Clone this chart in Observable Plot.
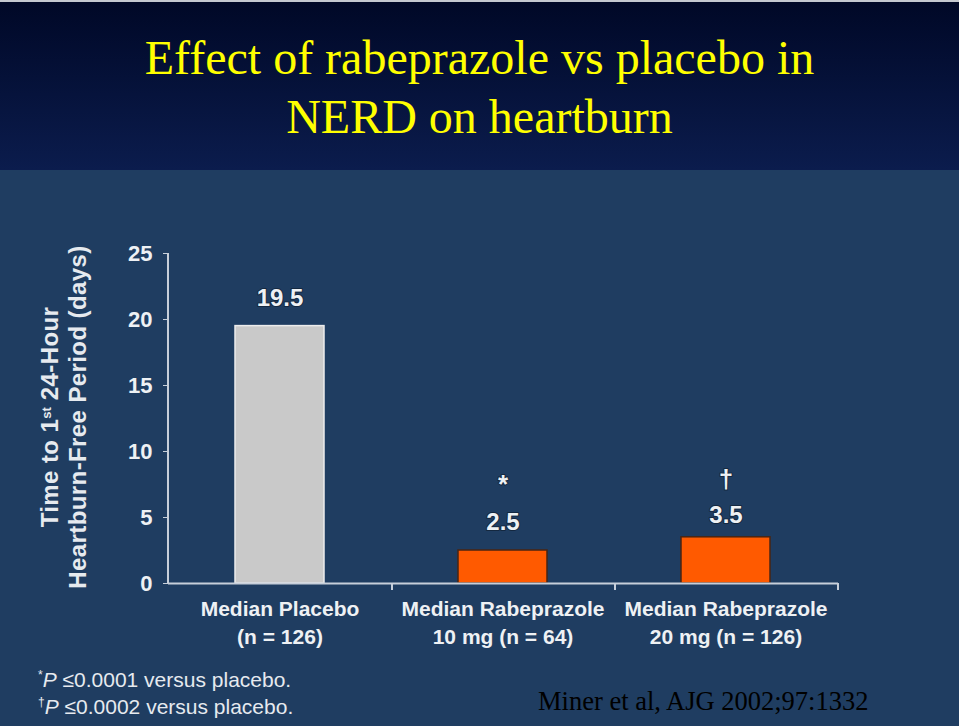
<!DOCTYPE html>
<html><head><meta charset="utf-8">
<script src="https://cdn.jsdelivr.net/npm/d3@7"></script>
<script src="https://cdn.jsdelivr.net/npm/@observablehq/plot@0.6"></script>
<style>
html,body{margin:0;padding:0;}
body{width:959px;height:726px;overflow:hidden;background:#1f3d61;position:relative;font-family:"Liberation Sans",Arial,sans-serif;}
#header{position:absolute;left:0;top:0;width:959px;height:170px;background:linear-gradient(#000827,#0b1c4d);border-top:2px solid #c4c8d0;box-sizing:border-box;}
#title{position:absolute;left:0;top:26px;width:959px;text-align:center;font-family:"Liberation Serif","Times New Roman",serif;font-size:48px;line-height:59px;color:#ffff00;}
#chart{position:absolute;left:0;top:170px;}
#ytitle{position:absolute;left:-186px;top:389px;width:500px;height:56px;line-height:28px;text-align:center;transform:rotate(-90deg);font-weight:bold;font-size:24px;letter-spacing:0.4px;color:#e6eaef;white-space:nowrap;}
#ytitle .sp{font-size:13px;line-height:0;vertical-align:0.55em;letter-spacing:0;}
#notes{position:absolute;left:38px;top:666px;font-size:21px;line-height:27px;color:#e6eaef;white-space:nowrap;}
#notes sup{font-size:12px;line-height:0;}
#caption{position:absolute;left:538px;top:686px;font-family:"Liberation Serif","Times New Roman",serif;font-size:26.5px;color:#000;white-space:nowrap;}
</style></head>
<body>
<div id="header"><div id="title">Effect of rabeprazole vs placebo in<br>NERD on heartburn</div></div>
<div id="chart"></div>
<div id="ytitle">Time to 1<span class="sp">st</span> 24-Hour<br>Heartburn-Free Period (days)</div>
<div id="notes"><sup>*</sup><i>P</i> ≤0.0001 versus placebo.<br><sup>†</sup><i>P</i> ≤0.0002 versus placebo.</div>
<div id="caption">Miner et al, AJG 2002;97:1332</div>
<script>
const categories = ["Median Placebo", "Median Rabeprazole 10 mg", "Median Rabeprazole 20 mg"];
const tickLine1 = ["Median Placebo", "Median Rabeprazole", "Median Rabeprazole"];
const tickLine2 = ["(n = 126)", "10 mg (n = 64)", "20 mg (n = 126)"];
const values = [19.5, 2.5, 3.5];
const valueLabels = ["19.5", "2.5", "3.5"];
const notes = ["", "*", "†"];
const barColors = ["#c9c9c9", "#ff5a00", "#ff5a00"];
const barStrokes = ["#ececec", "#4a2512", "#4a2512"];
const yTicks = [0, 5, 10, 15, 20, 25];

const data = categories.map((c, i) => ({cat: c, value: values[i], label: valueLabels[i], note: notes[i], fill: barColors[i], stroke: barStrokes[i]}));
const axisColor = "#c7cfda";
const textColor = "#eef1f4";
const halo = "#142840";

function axisDecor(index, scales, values, dims) {
  const g = d3.create("svg:g").attr("stroke", axisColor).attr("stroke-width", 2);
  const y0 = scales.y(0), y1 = scales.y(yTicks[yTicks.length - 1]);
  g.append("line").attr("x1", dims.marginLeft).attr("x2", dims.marginLeft).attr("y1", y1).attr("y2", y0 + 1);
  const starts = categories.map(c => scales.x(c));
  const offset = dims.width - dims.marginRight - starts[starts.length - 1];
  starts.forEach(s => {
    const bx = s + offset;
    g.append("line").attr("x1", bx).attr("x2", bx).attr("y1", y0).attr("y2", y0 + 7);
  });
  return g.node();
}

const textStyle = {fontWeight: "bold", fill: textColor, stroke: halo, strokeWidth: 2};

const chart = Plot.plot({
  width: 959, height: 556,
  marginTop: 83, marginBottom: 143, marginLeft: 168, marginRight: 121,
  style: {background: "transparent", fontFamily: "'Liberation Sans', Arial, sans-serif", color: textColor, overflow: "visible"},
  x: {domain: categories, paddingInner: 0.6, paddingOuter: 0.3, label: null},
  y: {domain: [0, 25], label: null},
  marks: [
    Plot.barY(data, {x: "cat", y: "value", fill: "fill", stroke: "stroke", strokeWidth: 1.5, inset: 0}),
    Plot.ruleY([0], {stroke: axisColor, strokeWidth: 2}),
    axisDecor,
    Plot.axisY({ticks: yTicks, tickSize: 5, tickPadding: 11, fontSize: 22, fontWeight: "bold", color: axisColor, label: null}),
    Plot.axisX({tickSize: 0, tickPadding: 13, fontSize: 21, fontWeight: "bold", lineHeight: 1.33, label: null,
      tickFormat: d => { const i = categories.indexOf(d); return tickLine1[i] + "\n" + tickLine2[i]; }}),
    Plot.text(data, {x: "cat", y: "value", text: "label", dy: -28, fontSize: 24, filter: d => d.note !== "†", ...textStyle}),
    Plot.text(data, {x: "cat", y: "value", text: "label", dy: -22, fontSize: 24, filter: d => d.note === "†", ...textStyle}),
    Plot.text(data, {x: "cat", y: "value", text: "note", dy: -66, fontSize: 26, filter: d => d.note === "*", ...textStyle}),
    Plot.text(data, {x: "cat", y: "value", text: "note", dy: -58, fontSize: 26, filter: d => d.note === "†", ...textStyle})
  ]
});
d3.select(chart).selectAll("[aria-label='y-axis tick label'] text, [aria-label='x-axis tick label'] text").attr("fill", textColor);
document.getElementById("chart").appendChild(chart);
</script>
</body></html>
